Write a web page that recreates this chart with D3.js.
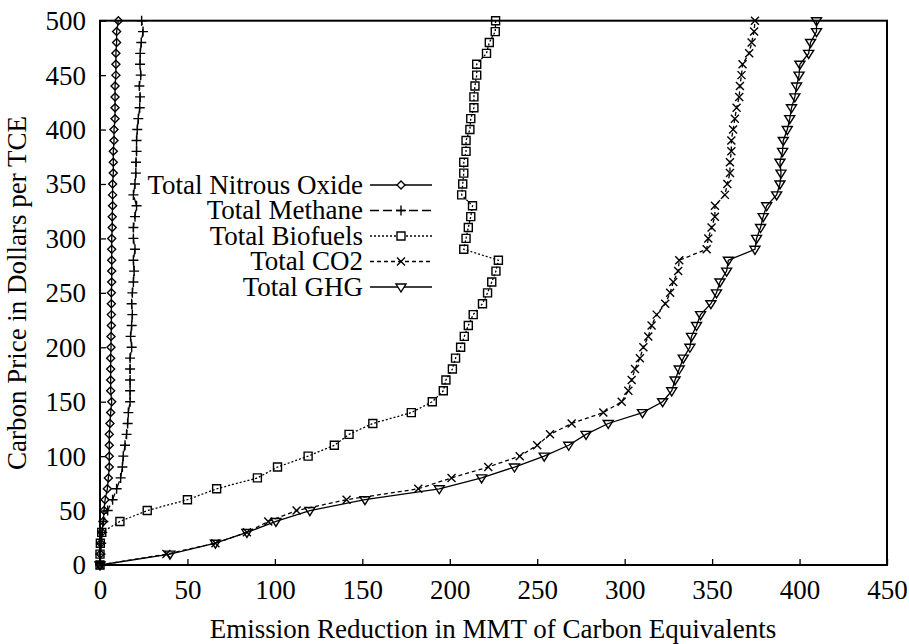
<html>
<script src='https://d3js.org/d3.v7.min.js'></script>
<style>
body { margin: 0; background: white; }
svg text { font-family: "Liberation Serif", "Times New Roman", Times, serif; fill: black; }
</style>
<body onload='init()'>
<svg width=909 height=644></svg>
<script>
// carbon price levels (y) shared by all series
var prices = [0,10,20,30,40,50,60,70,80,90,100,110,120,130,140,150,160,170,180,190,200,
  210,220,230,240,250,260,270,280,290,300,310,320,330,340,350,360,370,380,390,400,
  410,420,430,440,450,460,470,480,490,500];

var nitrous = [0,0.2,0.4,1.0,1.9,2.3,2.9,4.2,4.8,5.3,5.3,5.3,5.3,5.7,6.1,6.7,6.1,6.1,6.1,6.1,6.3,
  6.3,6.5,6.5,6.5,6.5,6.7,6.7,6.7,6.7,6.7,7.0,7.0,7.2,7.2,7.2,7.6,7.6,7.6,8.0,8.0,
  8.6,8.6,8.6,8.6,9.1,9.1,9.1,9.5,9.5,10.5];
var methane = [0,0.3,0.7,1.3,1.9,4.4,7.2,9.5,11.8,12.8,13.3,14.3,15.2,15.8,16.2,17.2,17.2,17.2,17.2,17.2,18.1,
  17.5,18.1,18.5,18.1,18.5,19.1,19.5,19.1,20.0,19.1,19.1,20.0,20.9,19.1,20.0,20.5,20.6,20.9,20.9,21.3,
  21.9,22.7,22.9,22.5,23.3,22.9,23.0,23.6,24.6,23.8];
var biofuels = [0,0,0.2,1.0,11.4,27,50,66.7,90,101.5,119,134,142.4,156,178,190,196.3,197.8,201.5,203.3,206.2,
  208.3,210.6,213.4,218.7,221.6,224,226.4,227.8,208,209.3,210.6,212,213,206.8,207.4,208,208,209.3,209.3,211.5,
  212,213.8,213.8,214.4,215.4,215.4,221,222.6,226,226.2];
var co2 = [0,38,66,84,96.2,112.4,141,182,201,222,240,250,257.3,269.7,287.8,298.3,302.1,304,305.9,308.7,310.7,
  313.5,315.4,318.3,323.2,326,327.8,330.6,331.2,346.9,347.8,349.7,351.6,351.6,357.3,358.7,360.2,360.2,361,361,362,
  363,364,365.5,365.9,366.8,367.4,371.2,372.6,374,374.5];
var ghg = [0,40,66,84,100.6,120,151.5,194,218.2,237,254,268,277.9,290.6,310.2,321.7,326.9,328.8,331.2,333.5,337.3,
  338.2,341.1,343.4,349.3,352.5,354.5,358.3,359.3,374.5,375.4,377.7,379.2,381.2,386.9,388.8,389.4,388.8,390.3,390.7,393,
  394.4,395.4,397.3,398.3,399.7,400.2,405.2,406.3,409.7,409.7];

var seriesNames = ["Total Nitrous Oxide","Total Methane","Total Biofuels","Total CO2","Total GHG"];
var xTicks = [0,50,100,150,200,250,300,350,400,450];
var yTicks = [0,50,100,150,200,250,300,350,400,450,500];

var FONT = '"Liberation Serif", "Times New Roman", serif';
var FS = 27;

function marker(kind, s) {
  var h = s / 2;
  if (kind == "diamond") return "M0," + (-h) + "L" + h + ",0L0," + h + "L" + (-h) + ",0Z";
  if (kind == "plus") return "M" + (-h) + ",0H" + h + "M0," + (-h) + "V" + h;
  if (kind == "square") return "M" + (-h) + "," + (-h) + "H" + h + "V" + h + "H" + (-h) + "Z";
  if (kind == "cross") return "M" + (-h) + "," + (-h) + "L" + h + "," + h + "M" + (-h) + "," + h + "L" + h + "," + (-h);
  return "M" + (-h) + "," + (-h * 0.6) + "H" + h + "L0," + (h * 1.0) + "Z";
}

function init() {
  var svg = d3.select("svg");
  var x = d3.scaleLinear().domain([0,450]).range([100,887]);
  var y = d3.scaleLinear().domain([0,500]).range([565,20.7]);

  var series = [
    {name: seriesNames[0], vals: nitrous, mk: "diamond", size: 8, dash: null},
    {name: seriesNames[1], vals: methane, mk: "plus", size: 10, dash: "9,4"},
    {name: seriesNames[2], vals: biofuels, mk: "square", size: 8, dash: "2,2"},
    {name: seriesNames[3], vals: co2, mk: "cross", size: 8, dash: "4,3"},
    {name: seriesNames[4], vals: ghg, mk: "triangle", size: 10, dash: null}
  ];

  var line = d3.line().x(function(d){ return x(d[0]); }).y(function(d){ return y(d[1]); });

  series.forEach(function(s) {
    var pts = s.vals.map(function(v,i){ return [v, prices[i]]; });
    svg.append("path").attr("d", line(pts)).attr("fill","none").attr("stroke","black")
      .attr("stroke-width",1.3).attr("stroke-dasharray", s.dash);
    svg.append("g").selectAll("path").data(pts).enter().append("path")
      .attr("transform", function(d){ return "translate(" + x(d[0]) + "," + y(d[1]) + ")"; })
      .attr("d", marker(s.mk, s.size))
      .attr("fill","none").attr("stroke","black").attr("stroke-width",1.4);
  });

  // axes
  var gx = svg.append("g").attr("transform","translate(0,565)")
    .call(d3.axisBottom(x).tickValues(xTicks).tickSizeInner(-6).tickSizeOuter(0).tickPadding(15));
  var gy = svg.append("g").attr("transform","translate(100,0)")
    .call(d3.axisLeft(y).tickValues(yTicks).tickSizeInner(-6).tickSizeOuter(0).tickPadding(14));
  [gx, gy].forEach(function(g) {
    g.attr("font-family", FONT).attr("font-size", FS);
    g.select(".domain").remove();
    g.selectAll("line").attr("stroke","black").attr("stroke-width",1.3);
    g.selectAll("text").attr("fill","black");
  });
  gy.selectAll("text").attr("dy","0.33em");

  svg.append("rect").attr("x",100).attr("y",20.7).attr("width",787).attr("height",544.3)
    .attr("fill","none").attr("stroke","black").attr("stroke-width",2);

  svg.append("text").attr("x",493).attr("y",638).attr("text-anchor","middle")
    .attr("font-family", FONT).attr("font-size", FS).text("Emission Reduction in MMT of Carbon Equivalents");
  svg.append("text").attr("transform","translate(26,293) rotate(-90)").attr("text-anchor","middle")
    .attr("font-family", FONT).attr("font-size", FS).text("Carbon Price in Dollars per TCE");

  // legend
  var lg = svg.append("g").selectAll("g").data(series).enter().append("g")
    .attr("transform", function(d,i){ return "translate(0," + (185 + i*25.5) + ")"; });
  lg.append("text").attr("x",363).attr("y",0).attr("dy","0.33em").attr("text-anchor","end")
    .attr("font-family", FONT).attr("font-size", FS).text(function(d){ return d.name; });
  lg.append("line").attr("x1",370).attr("x2",432).attr("y1",0).attr("y2",0)
    .attr("stroke","black").attr("stroke-width",1.3)
    .attr("stroke-dasharray", function(d){ return d.dash; });
  lg.append("path").attr("transform","translate(401,0)")
    .attr("d", function(d){ return marker(d.mk, d.size); })
    .attr("fill","white").attr("stroke","black").attr("stroke-width",1.4);
}
</script>
</body>
</html>
